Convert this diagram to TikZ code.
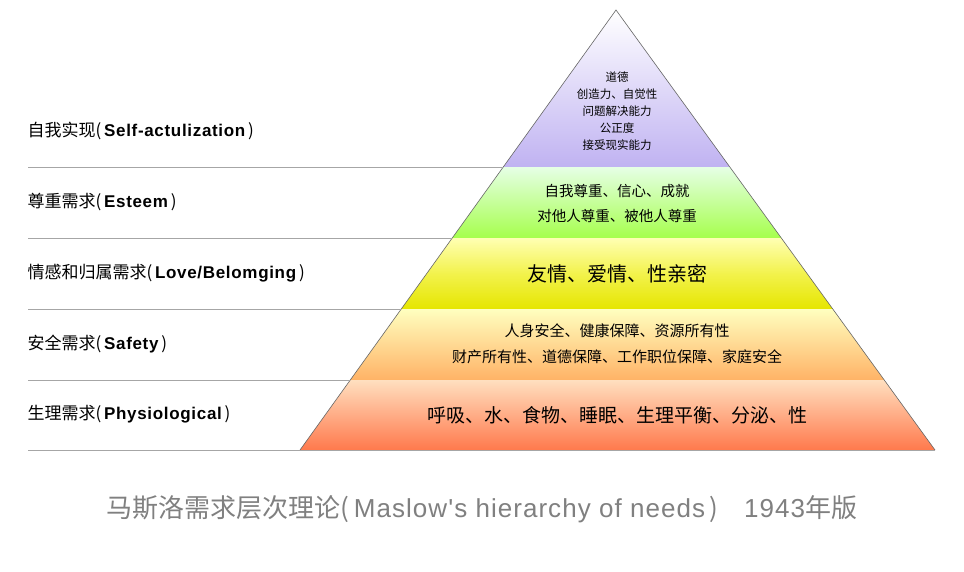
\documentclass[tikz,border=0pt]{standalone}
\usepackage{fontspec}
\setmainfont{Noto Sans CJK SC}
\newfontfamily\en[LetterSpace=4]{Liberation Sans}
\usetikzlibrary{shadings}
\begin{document}
\begin{tikzpicture}[x=1pt,y=-1pt,
  lbl/.style={anchor=west,font=\fontsize{17}{20}\selectfont,text=black},
  inner/.style={align=center,font=\fontsize{12}{16}\selectfont,text=black},
  sep/.style={draw=gray!70,line width=0.8pt}]
\useasboundingbox (0,0) rectangle (964,571);
\fill[white] (0,0) rectangle (964,571);
% layers
\def\lx#1{616-0.718*(#1-10)}
\def\rx#1{616+0.725*(#1-10)}
\shade[top color=white,bottom color=violet!35!blue!30] (616,10) -- ({\lx{167}},167) -- ({\rx{167}},167) -- cycle;
\shade[top color=green!10,bottom color=green!50!yellow!70] ({\lx{167}},167) -- ({\lx{238}},238) -- ({\rx{238}},238) -- ({\rx{167}},167) -- cycle;
\shade[top color=yellow!30,bottom color=yellow!80!olive] ({\lx{238}},238) -- ({\lx{309}},309) -- ({\rx{309}},309) -- ({\rx{238}},238) -- cycle;
\shade[top color=yellow!25!white,bottom color=orange!60] ({\lx{309}},309) -- ({\lx{380}},380) -- ({\rx{380}},380) -- ({\rx{309}},309) -- cycle;
\shade[top color=orange!25,bottom color=red!50!orange!70] ({\lx{380}},380) -- (300,450) -- (935,450) -- ({\rx{380}},380) -- cycle;
\draw[black!60,line width=0.6pt] (300,450) -- (616,10) -- (935,450);
% separators
\foreach \y in {167,238,309,380}{\draw[sep] (28,\y) -- ({\lx{\y}},\y);}
\draw[sep] (28,450) -- (935,450);
% left labels
\node[lbl] (l1) at (24,131) {自我实现(\,{\en\bfseries Self-actulization}\,)};
\node[lbl] (l2) at (24,202) {尊重需求(\,{\en\bfseries Esteem}\,)};
\node[lbl] (l3) at (24,273) {情感和归属需求(\,{\en\bfseries Love/Belomging}\,)};
\node[lbl] (l4) at (24,344) {安全需求(\,{\en\bfseries Safety}\,)};
\node[lbl] (l5) at (24,414) {生理需求(\,{\en\bfseries Physiological}\,)};
% inner texts
\node[inner,font=\fontsize{11.5}{17}\selectfont] (t1) at (617,111) {道德\\创造力、自觉性\\问题解决能力\\公正度\\接受现实能力};
\node[inner,font=\fontsize{14.5}{25}\selectfont] (t2) at (617,203) {自我尊重、信心、成就\\对他人尊重、被他人尊重};
\node[inner,font=\fontsize{20}{22}\selectfont] (t3) at (617,274) {友情、爱情、性亲密};
\node[inner,font=\fontsize{15}{26}\selectfont] (t4) at (617,344) {人身安全、健康保障、资源所有性\\财产所有性、道德保障、工作职位保障、家庭安全};
\node[inner,font=\fontsize{19}{22}\selectfont] (t5) at (617,415) {呼吸、水、食物、睡眠、生理平衡、分泌、性};
% title
\node[font=\fontsize{26}{30}\selectfont,text=gray] (title) at (482,509) {马斯洛需求层次理论(\,{\en Maslow's hierarchy of needs}\,)\quad {\en 1943}年版};
\end{tikzpicture}
\end{document}
